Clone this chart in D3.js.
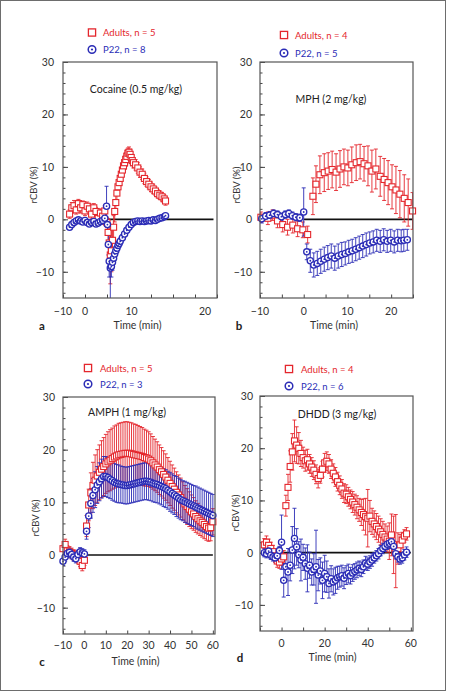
<!DOCTYPE html>
<html><head><meta charset="utf-8">
<script src="https://cdn.jsdelivr.net/npm/d3@7"></script>
<style>
body{margin:0;background:#fff}
svg{display:block}
text{font-family:Lato,"Liberation Sans",sans-serif}
</style>
</head><body>
<svg id="c" width="449" height="692"></svg>
<script>
// ---------------- DATA ----------------
// [time (min), mean rCBV (%), SEM]
const cocaineAdults = [[-8.5,1.0,0.8],[-8,2.2,1.0],[-7.5,2.6,1.0],[-7,1.8,0.8],[-6.5,3.0,0.8],[-6,2.2,1.0],[-5.5,2.8,0.7],[-5,1.6,0.9],[-4.5,2.5,0.8],[-4,2.0,1.0],[-3.5,1.0,0.9],[-3,2.2,0.8],[-2.5,1.5,0.8],[-2,0.2,1.0],[-1.5,1.2,0.8],[-1,0.6,0.9],[-0.5,1.6,1.0],[-0.25,-0.4,0.9],[0,-0.6,1.0],[0.25,-2.5,2.0],[0.5,-4.5,3.5],[0.75,-6.8,5.5],[1,-6.0,4.0],[1.25,-4.0,2.5],[1.5,-1.5,2.2],[1.75,1.5,2.0],[2,3.2,1.5],[2.25,5.0,1.3],[2.5,6.2,1.2],[2.75,7.0,1.2],[3,7.8,1.2],[3.25,8.6,1.2],[3.5,9.4,1.2],[3.75,10.2,1.2],[4,10.8,1.3],[4.25,11.4,1.3],[4.5,12.0,1.2],[4.75,12.6,1.0],[5,12.8,1.0],[5.25,12.4,1.0],[5.5,11.8,1.0],[5.75,11.2,1.0],[6,10.8,1.0],[6.5,10.4,1.0],[7,9.8,1.0],[7.5,9.0,1.0],[8,8.6,1.0],[8.5,7.8,1.0],[9,7.2,0.9],[9.5,6.7,0.9],[10,6.2,0.9],[10.5,5.8,0.9],[11,5.4,0.8],[11.5,4.9,0.8],[12,4.6,0.8],[12.5,4.3,0.8],[13,3.9,0.8],[13.3,3.5,0.8]];
const cocaineP22 = [[-8.5,-1.5,0.4],[-8,-1.0,0.4],[-7.5,-0.6,0.4],[-7,-0.3,0.4],[-6.5,-0.1,0.4],[-6,-0.3,0.4],[-5.5,-0.5,0.4],[-5,-0.2,0.4],[-4.5,-0.6,0.4],[-4,-0.9,0.4],[-3.5,-0.6,0.4],[-3,-0.4,0.4],[-2.5,-0.9,0.4],[-2,-0.7,0.5],[-1.5,-0.4,0.5],[-1,-0.2,0.5],[-0.5,0.2,0.6],[-0.1,2.5,3.8],[0.1,-1.0,1.0],[0.3,-4.8,2.0],[0.5,-8.0,3.0],[0.75,-9.3,8.0],[1,-9.0,2.0],[1.25,-8.2,1.5],[1.5,-7.4,1.0],[1.75,-6.6,0.8],[2,-6.0,0.8],[2.25,-5.5,0.7],[2.5,-5.0,0.7],[2.75,-4.6,0.6],[3,-4.2,0.6],[3.5,-3.5,0.6],[4,-2.8,0.5],[4.5,-2.1,0.5],[5,-1.5,0.5],[5.5,-1.0,0.5],[6,-0.6,0.4],[6.5,-0.4,0.4],[7,-0.3,0.4],[7.5,-0.4,0.4],[8,-0.3,0.4],[8.5,-0.4,0.4],[9,-0.3,0.4],[9.5,-0.2,0.4],[10,-0.3,0.4],[10.5,-0.1,0.4],[11,-0.2,0.4],[11.5,0.0,0.4],[12,0.2,0.4],[12.5,0.3,0.4],[13,0.5,0.4],[13.3,0.7,0.4]];

const mphAdults = [[-9.8,0.4,1.0],[-8.2,0.2,1.2],[-7.1,0.8,1.0],[-6.0,-0.3,1.3],[-4.8,-1.0,1.4],[-3.7,-1.5,1.5],[-2.5,-1.1,1.5],[-1.4,-1.8,1.5],[-0.2,-2.0,1.5],[0.9,-2.9,1.6],[2.1,4.4,3.5],[2.8,6.7,3.5],[3.7,8.5,3.6],[4.7,8.9,3.6],[5.6,9.2,3.5],[6.5,9.5,3.5],[7.4,9.0,3.5],[8.3,9.6,3.5],[9.2,10.0,3.4],[10.1,9.8,3.4],[11.0,10.4,3.4],[12.0,10.8,3.4],[12.9,11.0,3.3],[13.8,10.6,3.3],[14.7,10.2,3.8],[15.6,9.2,4.0],[16.5,9.6,3.8],[17.5,8.2,3.8],[18.4,7.6,4.0],[19.3,7.0,4.2],[20.2,6.2,4.2],[21.1,5.6,4.5],[22.0,4.8,4.5],[23.0,4.0,4.5],[23.9,3.2,4.5],[24.9,1.6,3.5]];
const mphP22 = [[-9.6,0.1,0.8],[-8.7,0.6,0.7],[-7.8,0.8,0.7],[-6.9,1.1,0.7],[-6.0,0.9,0.7],[-5.1,0.5,0.7],[-4.2,0.9,0.7],[-3.4,1.1,0.7],[-2.6,0.7,0.7],[-1.8,0.4,0.7],[-0.9,0.3,0.7],[0.0,1.4,4.6],[0.7,-6.2,1.5],[1.5,-7.9,2.2],[2.3,-8.7,2.3],[3.1,-8.4,2.3],[3.9,-8.0,2.3],[4.7,-7.6,2.3],[5.5,-7.3,2.3],[6.3,-7.0,2.3],[7.1,-7.4,2.3],[7.9,-7.0,2.3],[8.7,-6.7,2.3],[9.5,-6.5,2.2],[10.3,-6.2,2.2],[11.1,-6.0,2.2],[11.9,-5.7,2.2],[12.7,-5.4,2.2],[13.5,-5.1,2.2],[14.3,-4.8,2.2],[15.1,-4.5,2.1],[15.9,-4.3,2.1],[16.7,-4.0,2.1],[17.5,-4.2,2.1],[18.3,-3.9,2.1],[19.1,-4.2,2.1],[19.9,-4.0,2.1],[20.7,-4.3,2.1],[21.5,-4.0,2.1],[22.3,-4.1,2.1],[22.9,-4.0,2.1],[23.7,-3.9,2.0]];

// AMPH: one sample per minute, -10 .. 60 min
const amphTime = d3.range(-10, 61);
const amphAdultsMean = [1.2,2.0,0.8,0.6,0.3,0.0,-0.2,-0.5,-1.2,-2.0,-1.0,5.5,9.5,11.8,13.2,14.2,15.0,15.7,16.3,16.8,17.3,17.7,18.0,18.3,18.6,18.8,19.0,19.1,19.2,19.3,19.3,19.3,19.2,19.1,19.0,18.9,18.8,18.7,18.5,18.4,18.2,17.9,17.5,17.1,16.7,16.2,15.8,15.3,14.8,14.2,13.6,13.0,12.5,11.9,11.4,10.9,10.3,9.7,9.2,8.7,8.2,7.8,7.3,6.9,6.5,6.2,5.8,5.4,5.1,5.2,6.3];
const amphAdultsSem = [1.0,1.0,1.0,1.0,1.0,1.0,1.0,1.0,1.0,1.0,1.0,2.0,3.0,3.8,4.4,4.8,5.0,5.2,5.4,5.5,5.6,5.7,5.8,5.8,5.9,5.9,6.0,6.0,6.0,6.0,6.0,5.9,5.9,5.8,5.8,5.7,5.6,5.5,5.4,5.3,5.2,5.1,5.0,4.9,4.8,4.7,4.6,4.5,4.4,4.3,4.2,4.1,4.0,3.9,3.8,3.7,3.6,3.5,3.4,3.3,3.2,3.1,3.0,2.9,2.8,2.8,2.7,2.6,2.5,2.5,2.5];
const amphP22Mean = [-1.2,-0.4,0.3,0.5,0.1,-0.4,-0.7,0.1,0.6,0.4,0.2,4.5,7.4,9.8,11.3,12.4,13.3,13.9,14.5,14.9,14.9,14.7,14.4,14.1,13.8,13.6,13.5,13.4,13.3,13.2,13.2,13.3,13.4,13.5,13.6,13.7,13.8,13.9,14.0,14.0,13.9,13.8,13.6,13.5,13.4,13.2,13.0,12.8,12.6,12.3,12.0,11.7,11.4,11.1,10.8,10.5,10.3,10.1,9.9,9.7,9.5,9.3,9.1,8.9,8.7,8.5,8.3,8.1,7.9,7.7,7.5];
const amphP22Sem = [0.8,0.8,0.8,0.8,0.8,0.8,0.8,0.8,0.8,0.8,0.8,1.5,2.2,2.8,3.2,3.4,3.5,3.6,3.7,3.8,3.8,3.8,3.7,3.7,3.6,3.6,3.6,3.5,3.5,3.5,3.5,3.5,3.5,3.5,3.5,3.5,3.5,3.5,3.5,3.5,3.5,3.5,3.5,3.5,3.5,3.5,3.5,3.6,3.6,3.6,3.7,3.7,3.7,3.8,3.8,3.8,3.8,3.9,3.9,3.9,3.9,3.9,4.0,4.0,4.0,4.0,4.0,4.0,4.0,4.0,4.0];

// DHDD: one sample per minute, -8 .. 58 min
const dhddTime = d3.range(-8, 59);
const dhddAdultsMean = [1.5,2.0,1.4,0.8,0.2,-0.6,-1.6,-1.8,-1.2,-0.8,9.0,12.5,16.5,19.3,21.4,20.6,20.0,19.0,18.2,17.6,17.8,17.0,16.4,15.8,15.0,14.2,14.8,16.0,17.2,17.5,17.0,16.0,15.2,14.5,13.6,12.9,12.2,11.4,11.2,10.7,10.2,9.7,9.2,8.7,8.2,7.7,7.3,6.9,6.6,7.0,6.0,5.5,5.0,4.5,4.0,3.5,3.0,2.6,2.2,3.4,1.5,0.3,0.8,1.5,2.4,3.2,3.6];
const dhddAdultsSem = [1.2,1.2,1.2,1.2,1.2,1.2,1.2,1.2,1.2,1.2,2.0,2.5,3.0,3.5,4.0,3.5,3.0,2.5,2.0,2.0,2.0,1.8,1.8,1.8,1.8,1.8,1.5,1.5,1.8,1.8,1.8,1.8,1.8,1.8,1.8,1.8,1.8,1.8,1.8,1.8,1.8,2.0,2.0,2.2,2.2,2.5,3.0,3.5,5.5,3.0,2.5,2.5,2.5,2.5,2.5,2.5,2.5,2.5,3.5,4.0,5.5,7.0,3.0,2.0,1.5,1.2,1.2];
const dhddP22Mean = [0.0,-0.2,0.3,-0.5,-0.8,-1.0,-0.6,0.4,2.0,-5.3,-2.7,-3.7,-2.4,0.5,2.7,1.1,-0.4,-1.4,-0.9,-2.1,-3.0,-2.4,-3.7,-3.2,-2.7,-4.3,-3.5,-5.3,-4.0,-4.6,-5.9,-5.0,-5.6,-5.3,-4.8,-4.6,-4.4,-4.9,-4.3,-4.0,-4.4,-3.9,-3.6,-3.3,-3.0,-3.2,-2.7,-2.0,-2.2,-1.8,-1.4,-1.0,-0.6,-0.2,0.4,0.8,1.2,1.6,1.8,2.1,1.2,-0.2,-0.8,-1.2,-1.0,-0.4,0.1];
const dhddP22Sem = [0.8,0.8,0.8,0.8,0.8,0.8,0.8,0.8,5.2,3.2,2.5,4.5,3.0,4.5,5.8,3.5,2.5,4.0,2.5,3.0,4.5,2.5,2.5,3.0,7.0,3.0,2.5,3.5,3.5,3.0,2.8,2.5,2.5,2.5,2.2,2.0,2.0,2.0,1.8,1.8,1.6,1.6,1.5,1.5,1.4,1.4,1.3,1.3,1.2,1.2,1.2,1.0,1.0,1.0,1.0,1.0,1.0,1.0,1.0,1.0,1.0,1.0,1.0,1.0,1.0,1.0,1.0];

// axis tick labels
const yTickValues = [-10, 0, 10, 20, 30];
const yMinorValues = d3.range(-14, 31, 2);
const abXTicks = d3.range(-10, 26, 5);
const aXLabelText = ["\u221210", "0", "10", "20"];
const bXLabelText = ["\u221210", "0", "10", "20"];
const cXLabelText = ["\u221210", "0", "10", "20", "30", "40", "50", "60"];
const dXLabelText = ["0", "20", "40", "60"];
const cXTicks = d3.range(-10, 61, 10);
const dXTicks = d3.range(-10, 61, 10);

const legendAdults = ["Adults, n = 5", "Adults, n = 4", "Adults, n = 5", "Adults, n = 4"];
const legendP22 = ["P22, n = 8", "P22, n = 5", "P22, n = 3", "P22, n = 6"];
const drugLabels = ["Cocaine (0.5 mg/kg)", "MPH (2 mg/kg)", "AMPH (1 mg/kg)", "DHDD (3 mg/kg)"];
const panelLetters = ["a", "b", "c", "d"];

// ---------------- DRAWING ----------------
const RED = "#e4262c", BLUE = "#2b2cb6", INK = "#333";
const svg = d3.select("#c");
svg.append("rect").attr("x", 0.5).attr("y", 0.5).attr("width", 445).attr("height", 690)
  .attr("fill", "none").attr("stroke", "#6d6d6d").attr("stroke-width", 1);

const zipT = (t, m, s) => t.map((v, i) => [v, m[i], s[i]]);

const panels = [
  {i:0, left:63, right:217, top:62, bottom:298, xDomain:[-10,25], xTicks:abXTicks,
   xLabelAt:[-10,-5,5.6,22.3], xLabelText:aXLabelText, xLabelY:311, titleY:325, titleX:137.5, letterX:42,
   adults:cocaineAdults, p22:cocaineP22, zeroEnd:24.2, yLabelX:33, yLabelY:185, yPad:9,
   legX:92, legY1:32.5, legY2:49.5, textX:103, drugX:136, drugY:89},
  {i:1, left:260, right:413, top:62, bottom:298, xDomain:[-10,25], xTicks:abXTicks,
   xLabelAt:[-10,0,10,20], xLabelText:bXLabelText, xLabelY:311, titleY:325, titleX:334, letterX:239,
   adults:mphAdults, p22:mphP22, zeroEnd:25, yLabelX:236, yLabelY:185, yPad:8,
   legX:284, legY1:35, legY2:53, textX:295, drugX:331, drugY:99},
  {i:2, left:63, right:215, top:397, bottom:634, xDomain:[-10,61], xTicks:cXTicks,
   xLabelAt:[-10,0,10,20,30,40,50,60], xLabelText:cXLabelText, xLabelY:645, titleY:661, titleX:135.5, letterX:42,
   adults:zipT(amphTime, amphAdultsMean, amphAdultsSem), p22:zipT(amphTime, amphP22Mean, amphP22Sem),
   zeroEnd:60, yLabelX:35, yLabelY:518, yPad:8,
   legX:88, legY1:368, legY2:384, textX:100, drugX:127, drugY:412},
  {i:3, left:260, right:413, top:396, bottom:631, xDomain:[-10,61], xTicks:dXTicks,
   xLabelAt:[0,20,40,60], xLabelText:dXLabelText, xLabelY:643, titleY:657, titleX:332.5, letterX:240,
   adults:zipT(dhddTime, dhddAdultsMean, dhddAdultsSem), p22:zipT(dhddTime, dhddP22Mean, dhddP22Sem),
   zeroEnd:60, yLabelX:235, yLabelY:513, yPad:7,
   legX:289, legY1:369, legY2:386, textX:301, drugX:337, drugY:414}
];

function errorBars(g, data, x, y, color) {
  const eb = g.append("g").attr("stroke", color).attr("stroke-width", 0.9).attr("fill", "none");
  eb.selectAll("path").data(data).join("path")
    .attr("d", d => {
      const xx = x(d[0]), lo = y(d[1] - d[2]), hi = y(d[1] + d[2]);
      return `M${xx},${lo}V${hi}M${xx-2},${hi}H${xx+2}M${xx-2},${lo}H${xx+2}`;
    });
}
function squares(g, data, x, y, s) {
  g.append("g").selectAll("rect").data(data).join("rect")
    .attr("x", d => x(d[0]) - s/2).attr("y", d => y(d[1]) - s/2)
    .attr("width", s).attr("height", s)
    .attr("fill", "#fff").attr("stroke", RED).attr("stroke-width", 1.1);
}
function circles(g, data, x, y, r) {
  const c = g.append("g");
  c.selectAll("circle.o").data(data).join("circle").attr("class", "o")
    .attr("cx", d => x(d[0])).attr("cy", d => y(d[1])).attr("r", r)
    .attr("fill", "#fff").attr("stroke", BLUE).attr("stroke-width", 1.3);
  c.selectAll("circle.i").data(data).join("circle").attr("class", "i")
    .attr("cx", d => x(d[0])).attr("cy", d => y(d[1])).attr("r", 0.9)
    .attr("fill", BLUE);
}

panels.forEach(p => {
  const x = d3.scaleLinear().domain(p.xDomain).range([p.left, p.right]);
  const y = d3.scaleLinear().domain([-15, 30]).range([p.bottom, p.top]);
  const g = svg.append("g");
  const clipId = "clip" + p.i;
  svg.append("clipPath").attr("id", clipId).append("rect")
    .attr("x", p.left).attr("y", p.top).attr("width", p.right - p.left).attr("height", p.bottom - p.top);

  // y ticks (inward)
  const styleAxis = s => { s.select(".domain").remove(); s.selectAll("line").attr("stroke", "#444"); };
  g.append("g").attr("transform", `translate(${p.left},0)`)
    .call(d3.axisLeft(y).tickValues(yMinorValues).tickSize(-2.5).tickFormat("")).call(styleAxis);
  g.append("g").attr("transform", `translate(${p.left},0)`)
    .call(d3.axisLeft(y).tickValues(yTickValues).tickSize(-5).tickFormat("")).call(styleAxis);
  const yl = g.append("g").attr("transform", `translate(${p.left},0)`)
    .call(d3.axisLeft(y).tickValues(yTickValues).tickSize(0).tickPadding(p.yPad)
      .tickFormat(d => d < 0 ? "\u2212" + Math.abs(d) : String(d)));
  yl.select(".domain").remove();
  yl.selectAll("text").attr("font-size", 10.5).attr("fill", INK).attr("font-family", "Lato, 'Liberation Sans', sans-serif");

  // x ticks (inward)
  g.append("g").attr("transform", `translate(0,${p.bottom})`)
    .call(d3.axisBottom(x).tickValues(p.xTicks).tickSize(-3.5).tickFormat("")).call(styleAxis);
  g.append("g").selectAll("text").data(p.xLabelText).join("text")
    .attr("x", (d, k) => x(p.xLabelAt[k])).attr("y", p.xLabelY)
    .attr("text-anchor", "middle").attr("dominant-baseline", "central")
    .attr("font-size", 10.5).attr("fill", INK).text(d => d);

  // titles
  g.append("text").attr("x", p.titleX).attr("y", p.titleY).attr("text-anchor", "middle")
    .attr("dominant-baseline", "central").attr("font-size", 10.5).attr("fill", INK).text("Time (min)");
  g.append("text").attr("x", p.letterX).attr("y", p.titleY).attr("text-anchor", "middle")
    .attr("dominant-baseline", "central").attr("font-size", 11.5).attr("font-weight", "bold").attr("fill", "#222")
    .text(panelLetters[p.i]);
  g.append("text").attr("transform", `translate(${p.yLabelX},${p.yLabelY}) rotate(-90)`)
    .attr("text-anchor", "middle").attr("dominant-baseline", "central")
    .attr("font-size", 9.5).attr("fill", INK).text("rCBV (%)");
  g.append("text").attr("x", p.drugX).attr("y", p.drugY).attr("text-anchor", "middle")
    .attr("dominant-baseline", "central").attr("font-size", 10.5).attr("fill", "#222").text(drugLabels[p.i]);

  // legend
  g.append("rect").attr("x", p.legX - 3.6).attr("y", p.legY1 - 3.6).attr("width", 7.2).attr("height", 7.2)
    .attr("fill", "#fff").attr("stroke", RED).attr("stroke-width", 1.3);
  g.append("circle").attr("cx", p.legX).attr("cy", p.legY2).attr("r", 3.8)
    .attr("fill", "#fff").attr("stroke", BLUE).attr("stroke-width", 1.5);
  g.append("circle").attr("cx", p.legX).attr("cy", p.legY2).attr("r", 1.1).attr("fill", BLUE);
  g.append("text").attr("x", p.textX).attr("y", p.legY1).attr("dominant-baseline", "central")
    .attr("font-size", 9.5).attr("fill", RED).text(legendAdults[p.i]);
  g.append("text").attr("x", p.textX).attr("y", p.legY2).attr("dominant-baseline", "central")
    .attr("font-size", 9.5).attr("fill", BLUE).text(legendP22[p.i]);

  // zero line
  g.append("line").attr("x1", x(0)).attr("x2", x(p.zeroEnd)).attr("y1", y(0)).attr("y2", y(0))
    .attr("stroke", "#111").attr("stroke-width", 1.6);

  // data
  const clipped = g.append("g").attr("clip-path", `url(#${clipId})`);
  errorBars(clipped, p.adults, x, y, RED);
  errorBars(clipped, p.p22, x, y, BLUE);
  squares(g, p.adults, x, y, 6);
  circles(g, p.p22, x, y, 3.1);

  // frame
  g.append("rect").attr("x", p.left).attr("y", p.top).attr("width", p.right - p.left).attr("height", p.bottom - p.top)
    .attr("fill", "none").attr("stroke", "#555").attr("stroke-width", 1.2);
});
</script>
</body></html>
